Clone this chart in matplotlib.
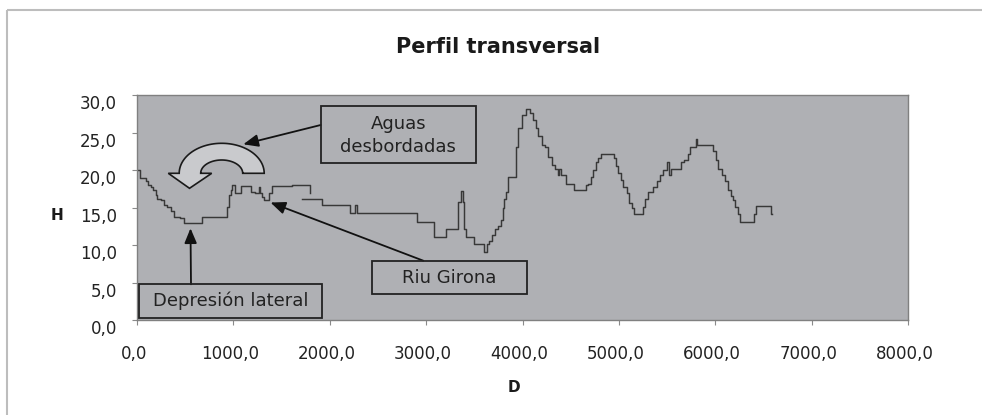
import numpy as np
import matplotlib
matplotlib.use("Agg")
import matplotlib.pyplot as plt
from matplotlib.transforms import Affine2D, ScaledTranslation
from matplotlib.patches import Rectangle, Polygon
from matplotlib.ticker import FixedLocator, FuncFormatter

# ---------------- data ----------------
title = "Perfil transversal"
x_label = "D"
y_label = "H"
x_ticks = [0, 1000, 2000, 3000, 4000, 5000, 6000, 7000, 8000]
y_ticks = [0, 5, 10, 15, 20, 25, 30]

# profile, first stretch (0 - ~1800 m)
d_part1 = [0, 31, 31, 83, 100, 135, 152, 187, 204, 221, 273, 290, 342, 360, 412,
           480, 498, 671, 671, 931, 947, 965, 983, 993, 1017, 1027, 1069, 1086,
           1172, 1190, 1259, 1269, 1283, 1311, 1328, 1363, 1380, 1422, 1795, 1795]
h_part1 = [20.0, 20.0, 19.0, 19.0, 18.5, 18.0, 17.8, 17.4, 16.7, 16.2, 16.0, 15.4,
           15.1, 14.5, 13.8, 13.6, 13.0, 13.0, 13.8, 13.8, 15.1, 16.7, 17.4, 18.0,
           18.0, 16.9, 16.9, 17.9, 17.9, 17.1, 17.0, 17.7, 16.9, 16.4, 16.0, 16.0,
           16.9, 17.9, 18.0, 16.9]

# profile, second stretch (~1700 - 6600 m)
d_part2 = [1709, 1916, 1916, 2210, 2215, 2262, 2268, 2283, 2290, 2902,
           2902, 3075, 3092, 3206, 3215, 3317, 3345, 3369, 3386, 3403,
           3421, 3490, 3507, 3594, 3611, 3645, 3663, 3697, 3732, 3767,
           3784, 3801, 3818, 3836, 3853, 3922, 3940, 3974, 4009, 4060,
           4096, 4130, 4147, 4182, 4216, 4251, 4285, 4320, 4355, 4372,
           4382, 4423, 4475, 4527, 4545, 4648, 4666, 4700, 4718, 4752,
           4770, 4804, 4822, 4942, 4960, 4977, 5012, 5029, 5063, 5098,
           5115, 5150, 5167, 5237, 5254, 5289, 5323, 5375, 5409, 5444,
           5478, 5513, 5531, 5548, 5634, 5652, 5704, 5721, 5756, 5790,
           5807, 5814, 5963, 5998, 6015, 6049, 6084, 6119, 6153, 6170,
           6188, 6222, 6240, 6274, 6395, 6412, 6430, 6568, 6585]
h_part2 = [16.2, 16.2, 15.4, 15.4, 14.3, 14.3, 15.3, 15.3, 14.3, 14.3,
           13.1, 13.1, 11.1, 11.1, 12.2, 12.2, 15.8, 17.2, 15.8, 12.2,
           11.1, 11.1, 10.2, 10.2, 9.1, 10.2, 10.5, 11.4, 12.2, 12.5,
           13.4, 14.9, 16.2, 17.1, 19.1, 19.1, 23.1, 25.6, 27.4, 28.2,
           27.6, 26.7, 25.6, 24.5, 23.4, 23.1, 21.8, 20.7, 20.2, 19.4,
           20.2, 19.4, 18.2, 18.2, 17.4, 17.4, 18.0, 18.2, 19.1, 20.0,
           21.1, 21.6, 22.2, 22.2, 21.6, 20.5, 19.6, 18.7, 17.8, 16.9,
           15.6, 15.0, 14.2, 14.2, 15.1, 16.2, 17.1, 17.8, 18.5, 19.4,
           20.0, 21.1, 19.4, 20.2, 20.2, 21.1, 21.4, 22.2, 23.1, 23.1,
           24.2, 23.3, 23.3, 22.5, 21.4, 20.2, 19.4, 18.5, 17.4, 16.5,
           16.0, 15.1, 14.2, 13.1, 13.1, 14.2, 15.2, 15.2, 14.2]

label_aguas = "Aguas\ndesbordadas"
label_riu = "Riu Girona"
label_dep = "Depresión lateral"

# ---------------- figure ----------------
plt.rcParams["font.family"] = ["DejaVu Sans"]
W, H = 982, 415
fig = plt.figure(figsize=(W / 100, H / 100), dpi=100)
fig.patch.set_facecolor("white")
# pixel transform (origin top-left)
px = Affine2D().scale(1 / 100, -1 / 100).translate(0, H / 100) + fig.dpi_scale_trans

# outer chart frame
fig.patches.append(Rectangle((7, 10), 1000, 430, transform=px, fill=False,
                             edgecolor="#bdbdbd", lw=1.5, clip_on=False))

ax_l, ax_r, ax_t, ax_b = 137, 908, 95.0, 320.2
ax = fig.add_axes([ax_l / W, (H - ax_b) / H, (ax_r - ax_l) / W, (ax_b - ax_t) / H])
ax.set_facecolor("#afb0b4")
ax.set_xlim(0, 8000)
ax.set_ylim(0, 30)

for d_seg, h_seg in [(d_part1, h_part1), (d_part2, h_part2)]:
    ax.plot(d_seg, h_seg, color="#383838", lw=1.05, drawstyle="steps-mid")

for s in ax.spines.values():
    s.set_color("#808080")
    s.set_linewidth(1.0)

fmt = FuncFormatter(lambda v, p: f"{v:.1f}".replace(".", ","))
ax.xaxis.set_major_locator(FixedLocator(x_ticks))
ax.yaxis.set_major_locator(FixedLocator(y_ticks))
ax.xaxis.set_major_formatter(fmt)
ax.yaxis.set_major_formatter(fmt)
ax.tick_params(axis="both", direction="out", length=3.6, width=0.8, color="#8a8a8a",
               labelsize=12, labelcolor="#222222")
ax.tick_params(axis="y", pad=10.8)
ax.tick_params(axis="x", pad=14)
for lab in ax.get_yticklabels():
    lab.set_transform(lab.get_transform() + ScaledTranslation(0, -0.07, fig.dpi_scale_trans))
for lab in ax.get_xticklabels():
    lab.set_transform(lab.get_transform() + ScaledTranslation(-0.03, 0, fig.dpi_scale_trans))

fig.text(498, 47, title, transform=px, ha="center", va="center",
         fontsize=15, fontweight="bold", color="#1a1a1a")
fig.text(56.7, 215, y_label, transform=px, ha="center", va="center",
         fontsize=11, fontweight="bold", color="#1a1a1a")
fig.text(513.5, 387.5, x_label, transform=px, ha="center", va="center",
         fontsize=11, fontweight="bold", color="#1a1a1a")

# annotation boxes
box_kw = dict(transform=px, fill=False, edgecolor="#222222", lw=1.3, clip_on=False)
for (x0, y0, x1, y1) in [(320.7, 105.7, 476, 163.3), (371.7, 260.7, 527.3, 294),
                         (139.3, 284.3, 321.7, 318.3)]:
    fig.patches.append(Rectangle((x0, y0), x1 - x0, y1 - y0, **box_kw))

fig.text(398.3, 135.5, label_aguas, transform=px, ha="center", va="center",
         fontsize=13, color="#222222", linespacing=1.35, multialignment="center")
fig.text(449.5, 278.3, label_riu, transform=px, ha="center", va="center",
         fontsize=13, color="#222222")
fig.text(230.5, 300.5, label_dep, transform=px, ha="center", va="center",
         fontsize=13, color="#222222")

arrow_kw = dict(arrowstyle="-|>,head_length=0.6,head_width=0.25", lw=1.3,
                color="#111111", shrinkA=0, shrinkB=0, mutation_scale=15)
for (start, tip) in [((191, 284.3), (190.5, 228.3)),
                     ((423.3, 260.7), (270.5, 202.5)),
                     ((320.7, 125.0), (243.3, 144.3))]:
    ax.annotate("", xy=tip, xytext=start, xycoords=px, textcoords=px,
                arrowprops=arrow_kw, annotation_clip=False)

# curved block arrow
cx, cy = 221.7, 173.3
t = np.linspace(np.pi, 0, 60)
outer = np.column_stack([cx + 42.5 * np.cos(t), cy - 30 * np.sin(t)])
inner = np.column_stack([cx + 21 * np.cos(t[::-1]), cy - 13.3 * np.sin(t[::-1])])
head = np.array([[211.7, 173.3], [189.5, 188.3], [168.3, 173.3]])
poly = np.vstack([outer, inner, head])
fig.patches.append(Polygon(poly, closed=True, transform=px, facecolor="#c9cacd",
                           edgecolor="#1a1a1a", lw=1.2, clip_on=False))

fig.savefig("out.png", dpi=100, facecolor="white")
